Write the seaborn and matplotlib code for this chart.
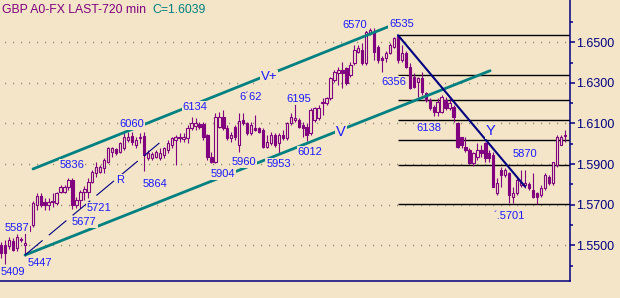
import numpy as np
import matplotlib
matplotlib.use("Agg")
import matplotlib.pyplot as plt
import seaborn as sns

# ---------------- data (GBP 720-min candles) ----------------
opens = [1.5501, 1.5501, 1.5495, 1.5520, 1.5487, 1.5530, 1.5500, 1.5569, 1.5600, 1.5699,
         1.5743, 1.5715, 1.5699, 1.5715, 1.5710, 1.5764, 1.5764, 1.5789, 1.5822, 1.5699,
         1.5723, 1.5765, 1.5764, 1.5813, 1.5855, 1.5863, 1.5879, 1.5912, 1.5961, 1.5973,
         1.5961, 1.5978, 1.6020, 1.6038, 1.5994, 1.6027, 1.6038, 1.5929, 1.5929, 1.5937,
         1.5929, 1.5945, 1.5969, 1.5994, 1.6018, 1.6035, 1.6022, 1.6027, 1.6076, 1.6087,
         1.6097, 1.6097, 1.6043, 1.5936, 1.5912, 1.6084, 1.6134, 1.6076, 1.6027, 1.6084,
         1.5995, 1.6117, 1.6101, 1.6052, 1.6076, 1.6076, 1.6068, 1.5986, 1.6002, 1.6043,
         1.6002, 1.6043, 1.6027, 1.6101, 1.6117, 1.6117, 1.6092, 1.6084, 1.6052, 1.6117,
         1.6125, 1.6199, 1.6199, 1.6224, 1.6314, 1.6347, 1.6364, 1.6372, 1.6339, 1.6397,
         1.6454, 1.6462, 1.6397, 1.6544, 1.6552, 1.6478, 1.6425, 1.6421, 1.6446, 1.6478,
         1.6530, 1.6413, 1.6446, 1.6380, 1.6331, 1.6306, 1.6322, 1.6249, 1.6216, 1.6183,
         1.6158, 1.6158, 1.6216, 1.6175, 1.6183, 1.6100, 1.6035, 1.5986, 1.5970, 1.5904,
         1.5937, 1.5970, 1.6002, 1.5953, 1.5945, 1.5756, 1.5871, 1.5846, 1.5855, 1.5740,
         1.5756, 1.5797, 1.5797, 1.5801, 1.5772, 1.5756, 1.5748, 1.5781, 1.5838, 1.5805,
         1.5896, 1.5994, 1.6043]
highs = [1.5517, 1.5526, 1.5540, 1.5535, 1.5556, 1.5540, 1.5569, 1.5608, 1.5720, 1.5756,
         1.5756, 1.5732, 1.5732, 1.5757, 1.5765, 1.5797, 1.5797, 1.5830, 1.5830, 1.5740,
         1.5773, 1.5790, 1.5830, 1.5871, 1.5912, 1.5896, 1.5929, 1.5986, 1.5986, 1.5978,
         1.6010, 1.6052, 1.6060, 1.6060, 1.6035, 1.6052, 1.6060, 1.5970, 1.5961, 1.5970,
         1.5978, 1.5986, 1.6018, 1.6035, 1.6043, 1.6052, 1.6052, 1.6092, 1.6134, 1.6126,
         1.6105, 1.6109, 1.6050, 1.5960, 1.6150, 1.6158, 1.6166, 1.6092, 1.6060, 1.6095,
         1.6150, 1.6150, 1.6109, 1.6109, 1.6142, 1.6084, 1.6076, 1.6043, 1.6060, 1.6052,
         1.6052, 1.6068, 1.6109, 1.6150, 1.6195, 1.6125, 1.6109, 1.6101, 1.6175, 1.6183,
         1.6191, 1.6224, 1.6232, 1.6331, 1.6364, 1.6380, 1.6405, 1.6380, 1.6405, 1.6487,
         1.6487, 1.6495, 1.6570, 1.6570, 1.6568, 1.6487, 1.6432, 1.6459, 1.6495, 1.6528,
         1.6535, 1.6487, 1.6455, 1.6397, 1.6347, 1.6331, 1.6355, 1.6257, 1.6224, 1.6191,
         1.6224, 1.6240, 1.6232, 1.6232, 1.6191, 1.6109, 1.6035, 1.6035, 1.5978, 1.5962,
         1.6002, 1.5994, 1.6010, 1.5970, 1.5962, 1.5830, 1.5887, 1.5880, 1.5863, 1.5789,
         1.5838, 1.5871, 1.5871, 1.5812, 1.5854, 1.5764, 1.5797, 1.5854, 1.5846, 1.5912,
         1.6043, 1.6043, 1.6068]
lows = [1.5435, 1.5409, 1.5480, 1.5470, 1.5471, 1.5515, 1.5447, 1.5560, 1.5590, 1.5674,
        1.5690, 1.5674, 1.5674, 1.5690, 1.5700, 1.5756, 1.5756, 1.5773, 1.5677, 1.5682,
        1.5682, 1.5721, 1.5732, 1.5805, 1.5838, 1.5855, 1.5855, 1.5904, 1.5937, 1.5945,
        1.5953, 1.5970, 1.6010, 1.5994, 1.5978, 1.6002, 1.5864, 1.5920, 1.5920, 1.5929,
        1.5920, 1.5929, 1.5953, 1.5978, 1.5895, 1.6010, 1.6010, 1.6002, 1.6068, 1.6068,
        1.6075, 1.6018, 1.5920, 1.5904, 1.5904, 1.6076, 1.6068, 1.6018, 1.6010, 1.6020,
        1.5961, 1.6092, 1.6043, 1.6043, 1.6062, 1.6052, 1.5978, 1.5978, 1.5994, 1.5986,
        1.5953, 1.6018, 1.6018, 1.6092, 1.6109, 1.6076, 1.6035, 1.6012, 1.6043, 1.6109,
        1.6117, 1.6142, 1.6191, 1.6216, 1.6306, 1.6290, 1.6273, 1.6290, 1.6331, 1.6388,
        1.6446, 1.6388, 1.6390, 1.6535, 1.6413, 1.6397, 1.6356, 1.6404, 1.6440, 1.6470,
        1.6400, 1.6405, 1.6372, 1.6270, 1.6273, 1.6232, 1.6240, 1.6208, 1.6166, 1.6138,
        1.6138, 1.6150, 1.6166, 1.6166, 1.6109, 1.5978, 1.5978, 1.5960, 1.5900, 1.5890,
        1.5920, 1.5937, 1.5912, 1.5912, 1.5785, 1.5748, 1.5789, 1.5835, 1.5707, 1.5707,
        1.5748, 1.5789, 1.5780, 1.5770, 1.5731, 1.5701, 1.5740, 1.5772, 1.5797, 1.5797,
        1.5887, 1.5994, 1.6010]
closes = [1.5460, 1.5460, 1.5528, 1.5479, 1.5540, 1.5526, 1.5510, 1.5594, 1.5710, 1.5743,
          1.5699, 1.5699, 1.5715, 1.5720, 1.5756, 1.5789, 1.5789, 1.5822, 1.5699, 1.5723,
          1.5764, 1.5776, 1.5813, 1.5863, 1.5888, 1.5888, 1.5920, 1.5978, 1.5978, 1.5953,
          1.6002, 1.6035, 1.6035, 1.6010, 1.6018, 1.6035, 1.5944, 1.5953, 1.5949, 1.5961,
          1.5953, 1.5978, 1.6002, 1.6027, 1.6035, 1.6027, 1.6035, 1.6076, 1.6101, 1.6101,
          1.6084, 1.6035, 1.5936, 1.5912, 1.6134, 1.6134, 1.6076, 1.6027, 1.6043, 1.6035,
          1.6110, 1.6101, 1.6052, 1.6092, 1.6068, 1.6060, 1.5986, 1.6010, 1.6043, 1.5994,
          1.6043, 1.6027, 1.6101, 1.6134, 1.6125, 1.6084, 1.6076, 1.6043, 1.6166, 1.6175,
          1.6175, 1.6208, 1.6224, 1.6323, 1.6355, 1.6364, 1.6347, 1.6298, 1.6388, 1.6462,
          1.6470, 1.6397, 1.6552, 1.6560, 1.6454, 1.6413, 1.6415, 1.6446, 1.6487, 1.6520,
          1.6413, 1.6446, 1.6380, 1.6273, 1.6281, 1.6322, 1.6257, 1.6216, 1.6175, 1.6158,
          1.6207, 1.6232, 1.6175, 1.6199, 1.6134, 1.5985, 1.5994, 1.5970, 1.5904, 1.5953,
          1.5970, 1.5953, 1.5929, 1.5929, 1.5789, 1.5805, 1.5846, 1.5871, 1.5748, 1.5756,
          1.5822, 1.5813, 1.5805, 1.5781, 1.5739, 1.5739, 1.5781, 1.5846, 1.5805, 1.5912,
          1.6035, 1.6035, 1.6039]

# price axis levels
major_levels = [1.55, 1.57, 1.59, 1.61, 1.63, 1.65]
minor_levels = [1.54, 1.56, 1.58, 1.60, 1.62, 1.64, 1.66]
# Fibonacci retracement levels (6535 -> 5701)
fib_levels = [1.6535, 1.6338, 1.6216, 1.6118, 1.6020, 1.5898, 1.5701]
fib_start = 100

# trend / channel lines: (bar index, price) end points
upper_channel_x = [8.06, 98.6]
upper_channel_y = [1.5876, 1.6585]
lower_channel_x = [6.05, 123.2]
lower_channel_y = [1.5452, 1.6360]
trend_x = [100, 132]
trend_y = [1.6535, 1.5789]
r_line_x = [6.05, 39.9]
r_line_y = [1.5452, 1.6004]

# annotations
label_text = ["5409", "5447", "5587", "5677", "5721", "5836", "6060", "5864", "6134",
              "6´62", "6195", "5904", "5960", "5953", "6012", "6570", "6535", "6356",
              "6138", "5870", "´.5701"]
label_idx = [2.9, 9.8, 3.9, 21.0, 24.8, 17.9, 33.0, 38.9, 48.9,
             63.0, 74.9, 56.0, 61.1, 69.9, 77.8, 89.0, 100.9, 98.9,
             107.9, 131.9, 128.0]
label_price = [1.5354, 1.5398, 1.5570, 1.5600, 1.5669, 1.5881, 1.6083, 1.5787, 1.6167,
               1.6216, 1.6206, 1.5837, 1.5896, 1.5886, 1.5946, 1.6569, 1.6577, 1.6290,
               1.6063, 1.5936, 1.5631]
letter_text = ["R", "V+", "V", "Y"]
letter_idx = [30.0, 67.5, 85.6, 123.4]
letter_price = [1.5807, 1.6314, 1.6039, 1.6043]
letter_size = [8, 9.5, 10.5, 10.5]

title_text = "GBP A0-FX LAST-720 min"
last_text = "C=1.6039"

# ---------------- style ----------------
BG = "#F4E5C8"
PURPLE = "#800080"
TEAL = "#008080"
NAVY = "#000080"
BLUE = "#1a1aff"
GRID = "#8f8472"

sns.set_style("white", {"axes.facecolor": BG, "figure.facecolor": BG})
plt.rcParams["font.family"] = ["Liberation Sans", "DejaVu Sans"]
plt.rcParams["lines.scale_dashes"] = False

W, H = 620, 298
fig = plt.figure(figsize=(W / 100, H / 100), dpi=100)
fig.patch.set_facecolor(BG)
ax = fig.add_axes([0, 17 / H, 570 / W, 281 / H])
ax.set_facecolor(BG)

n = len(opens)
x = np.arange(n)
o = np.array(opens); h = np.array(highs); l = np.array(lows); c = np.array(closes)

x_left, x_right = -0.252, 143.33
y_bottom, y_top = 1.53241, 1.67084
ax.set_xlim(x_left, x_right)
ax.set_ylim(y_bottom, y_top)

# dotted grid lines at the labelled levels
for lv in major_levels:
    ax.axhline(lv, color=GRID, lw=1.0, linestyle=(2.5, (0.8, 4.96)), zorder=0.5)

# Fibonacci horizontal lines
ax.hlines(fib_levels, fib_start, x_right, colors="black", linewidth=1.0, zorder=1)

# candles
up = c >= o
ax.vlines(x, l, h, color=PURPLE, linewidth=0.8, zorder=2)
bottom = np.minimum(o, c)
height = np.maximum(np.abs(c - o), 0.00005)
ax.bar(x[up], height[up], bottom=bottom[up], width=0.6, facecolor=BG,
       edgecolor=PURPLE, linewidth=0.8, zorder=3)
ax.bar(x[~up], height[~up], bottom=bottom[~up], width=0.6, facecolor=PURPLE,
       edgecolor=PURPLE, linewidth=0.8, zorder=3)

# channel lines and trend lines
sns.lineplot(x=upper_channel_x, y=upper_channel_y, ax=ax, color=TEAL, linewidth=2.0, zorder=4)
sns.lineplot(x=lower_channel_x, y=lower_channel_y, ax=ax, color=TEAL, linewidth=2.0, zorder=4)
sns.lineplot(x=trend_x, y=trend_y, ax=ax, color=NAVY, linewidth=1.5, zorder=4)
ax.plot(r_line_x, r_line_y, color=NAVY, linewidth=0.8, linestyle=(0, (16.5, 5.8)), zorder=4)

box = dict(boxstyle="square,pad=0.08", facecolor=BG, edgecolor="none")
for t, xi, yi in zip(label_text, label_idx, label_price):
    ax.text(xi, yi, t, color=BLUE, fontsize=8, ha="center", va="baseline",
            bbox=box, zorder=6)
for t, xi, yi, s in zip(letter_text, letter_idx, letter_price, letter_size):
    ax.text(xi, yi, t, color=BLUE, fontsize=s, ha="center", va="baseline",
            bbox=box, zorder=6)

# axes styling
for side in ["top", "left"]:
    ax.spines[side].set_visible(False)
for side in ["right", "bottom"]:
    ax.spines[side].set_visible(True)
    ax.spines[side].set_color(NAVY)
    ax.spines[side].set_linewidth(1.1)
ax.spines["right"].set_zorder(7)

ax.yaxis.tick_right()
ax.set_yticks(major_levels)
ax.set_yticklabels([f"{v:.4f}" for v in major_levels])
ax.set_yticks(minor_levels, minor=True)
ax.tick_params(axis="y", which="major", direction="out", length=3.4, width=1.1,
               color=NAVY, labelcolor=NAVY, labelsize=9, pad=1.2)
ax.tick_params(axis="y", which="minor", direction="out", length=2.2, width=1.1, color=NAVY)
ax.set_xticks(np.arange(1, n, 2))
ax.set_xticklabels([])
ax.tick_params(axis="x", which="major", direction="out", length=4.3, width=1.1,
               color=NAVY, labelbottom=False)
ax.set_xlabel("")
ax.set_ylabel("")
ax.grid(False)

fig.text(2 / W, 1 - 13.3 / H, title_text, color=PURPLE, fontsize=8.8, ha="left", va="baseline")
fig.text(152 / W, 1 - 13.3 / H, last_text, color=TEAL, fontsize=8.8, ha="left", va="baseline")

fig.savefig("out.png", dpi=100, facecolor=BG)
